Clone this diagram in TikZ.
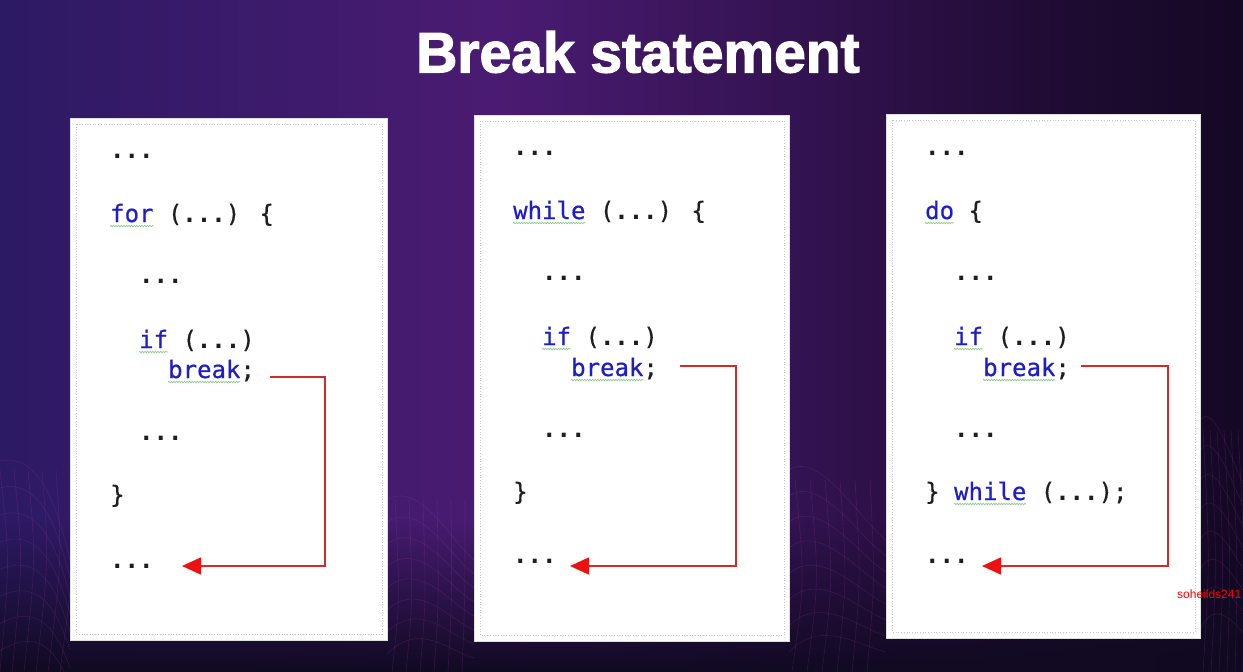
\documentclass[tikz,border=0pt]{standalone}
\usepackage{fontspec}
\setmainfont{Liberation Sans}
\newfontfamily\titlefont[FakeBold=2.2]{Liberation Sans Bold}
\newfontfamily\codefont[FakeBold=0.6]{DejaVu Sans Mono}
\newfontfamily\dotfont{DejaVu Sans Mono Bold}
\usetikzlibrary{arrows.meta,decorations.pathmorphing,fadings}

\definecolor{bgA}{HTML}{1B1A4E}
\definecolor{bgB}{HTML}{2B1A63}
\definecolor{bgC}{HTML}{4A1B72}
\definecolor{bgD}{HTML}{1E0B32}
\definecolor{bgE}{HTML}{080412}
\definecolor{bgF}{HTML}{050310}
\definecolor{bgfloor}{HTML}{110A22}
\definecolor{kwblue}{HTML}{1E1EC8}
\definecolor{codeink}{HTML}{1E1E1E}
\definecolor{flowred}{HTML}{D42A2A}
\definecolor{tipred}{HTML}{EE1111}
\definecolor{squig}{HTML}{8CCB8C}
\definecolor{mesh}{HTML}{B04CB0}

% left-to-right sweep: indigo, purple in the middle, near-black on the right
\pgfdeclarehorizontalshading{backdrop}{100bp}{%
  color(0bp)=(bgA); color(24bp)=(bgB); color(45bp)=(bgC);
  color(68bp)=(bgD); color(84bp)=(bgE); color(100bp)=(bgF)}

\newcommand\kw[1]{\textcolor{kwblue}{#1}}
\newcommand\dd{{\dotfont ...}}
% wavy spell-check underline below a keyword: x, baseline y, number of characters
\newcommand\squigline[3]{\draw[squiggly] (#1,#2+4) -- (#1+#3*14.45,#2+4);}

\begin{document}
\begin{tikzpicture}[x=1pt,y=-1pt,
  panel/.style={fill=white,draw=black!12,line width=0.8pt},
  innerframe/.style={draw=black!22,dotted,line width=0.7pt},
  code/.style={anchor=base west,inner sep=0pt,text=codeink,
    font=\codefont\fontsize{24}{24}\selectfont},
  squiggly/.style={draw=squig,line width=0.7pt,
    decorate,decoration={snake,amplitude=0.7pt,segment length=2.6pt}},
  flow/.style={draw=flowred,line width=1.6pt,
    -{Triangle[length=19pt,width=17pt,color=tipred]}},
  meshline/.style={draw=mesh,opacity=0.18,line width=0.6pt}]

\useasboundingbox (0,0) rectangle (1243,672);

% background
\begin{scope}
  \clip (0,0) rectangle (1243,672);
  \shade[shading=backdrop] (0,0) rectangle (1243,672);
  \fill[bgfloor,path fading=north] (0,520) rectangle (1243,672);
  % faint wireframe terrain at the bottom
  \foreach \k in {0,...,7}{
    \draw[meshline] (-20,470+\k*28) .. controls (40,430+\k*26) and (60,520+\k*20) .. (70,560+\k*18);
    \draw[meshline] (387,500+\k*22) .. controls (420,480+\k*20) and (450,540+\k*16) .. (474,560+\k*14);
    \draw[meshline] (789,470+\k*26) .. controls (820,450+\k*24) and (860,520+\k*18) .. (886,540+\k*16);
    \draw[meshline] (1200,420+\k*30) .. controls (1215,400+\k*28) and (1235,470+\k*22) .. (1250,500+\k*20);
  }
  \foreach \k in {0,...,5}{
    \draw[meshline] (\k*14,470) .. controls (\k*13+10,560) .. (\k*12,672);
    \draw[meshline] (395+\k*14,500) .. controls (400+\k*13,600) .. (392+\k*14,672);
    \draw[meshline] (795+\k*15,480) .. controls (805+\k*14,580) .. (792+\k*15,672);
    \draw[meshline] (1203+\k*7,430) .. controls (1210+\k*7,560) .. (1203+\k*8,672);
  }
\end{scope}

% title
\node[text=white,font=\titlefont\fontsize{57}{57}\selectfont] (title) at (638,52) {Break statement};

% panels
\draw[panel] (70,118) rectangle (387,640);
\draw[innerframe] (76,124) rectangle (382,634);
\draw[panel] (474,115) rectangle (789,641);
\draw[innerframe] (480,121) rectangle (784,635);
\draw[panel] (886,114) rectangle (1200,638);
\draw[innerframe] (892,120) rectangle (1195,632);

% ---- for loop ----
\node[code] (f0) at (110,158) {\dd};
\node[code] (f1) at (110,222) {\kw{for} (\dd) \{};
\node[code] (f2) at (139,283) {\dd};
\node[code] (f3) at (139,348) {\kw{if} (\dd)};
\node[code] (f4) at (168,378) {\kw{break};};
\node[code] (f5) at (139,440) {\dd};
\node[code] (f6) at (110,503) {\}};
\node[code] (f7) at (110,568) {\dd};
\squigline{110}{222}{3}
\squigline{139}{348}{2}
\squigline{168}{378}{5}
\coordinate (fs) at (270,377);
\coordinate (fk) at (325,377);
\coordinate (fe) at (182,566);
\draw[flow] (fs) -- (fk) |- (fe);

% ---- while loop ----
\node[code] (w0) at (513,155) {\dd};
\node[code] (w1) at (513,219) {\kw{while} (\dd) \{};
\node[code] (w2) at (542,280) {\dd};
\node[code] (w3) at (542,345) {\kw{if} (\dd)};
\node[code] (w4) at (571,376) {\kw{break};};
\node[code] (w5) at (542,437) {\dd};
\node[code] (w6) at (513,500) {\}};
\node[code] (w7) at (513,563) {\dd};
\squigline{513}{219}{5}
\squigline{542}{345}{2}
\squigline{571}{376}{5}
\coordinate (ws) at (680,366);
\coordinate (wk) at (736,366);
\coordinate (we) at (570,566);
\draw[flow] (ws) -- (wk) |- (we);

% ---- do-while loop ----
\node[code] (d0) at (925,155) {\dd};
\node[code] (d1) at (925,219) {\kw{do} \{};
\node[code] (d2) at (954,280) {\dd};
\node[code] (d3) at (954,345) {\kw{if} (\dd)};
\node[code] (d4) at (983,376) {\kw{break};};
\node[code] (d5) at (954,437) {\dd};
\node[code] (d6) at (925,500) {\} \kw{while} (\dd);};
\node[code] (d7) at (925,563) {\dd};
\squigline{925}{219}{2}
\squigline{954}{345}{2}
\squigline{983}{376}{5}
\squigline{953.9}{500}{5}
\coordinate (ds) at (1081,366);
\coordinate (dk) at (1168,366);
\coordinate (de) at (982,566);
\draw[flow] (ds) -- (dk) |- (de);

% channel tag
\node[anchor=west,inner sep=0pt,text=red,font=\fontsize{12}{12}\selectfont] (tag) at (1177,594) {soheilds241};

\end{tikzpicture}
\end{document}
